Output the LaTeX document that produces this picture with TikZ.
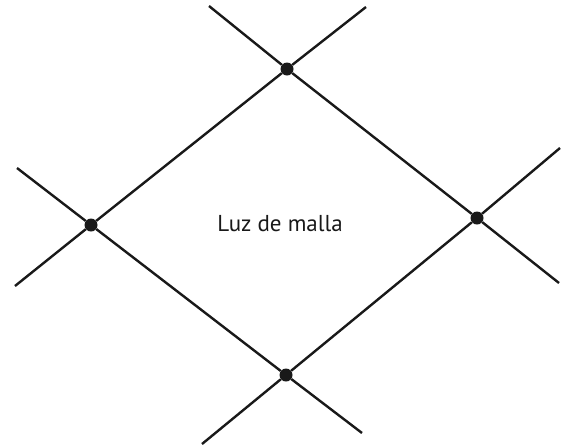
\documentclass[tikz,border=0pt]{standalone}
\usepackage{fontspec}
\setmainfont{PT Sans}
\usepackage{tikz}

\begin{document}
\begin{tikzpicture}[
    x=1pt, y=-1pt,
    knot/.style={circle, fill=black!90, inner sep=0pt, minimum size=13pt},
    hilo/.style={line width=2.4pt, black!90},
]

\useasboundingbox (0, 0) rectangle (561, 445);

% knots of the net
\node[knot] (top) at (287, 69) {};
\node[knot] (left) at (91, 225) {};
\node[knot] (right) at (477, 218) {};
\node[knot] (bot) at (286, 375) {};

% free ends of the twines
\coordinate (topL) at (209, 6);
\coordinate (topR) at (366, 7);
\coordinate (leftU) at (17, 168);
\coordinate (leftD) at (15, 286);
\coordinate (rightU) at (560, 148);
\coordinate (rightD) at (559, 283);
\coordinate (botL) at (202, 444);
\coordinate (botR) at (362, 433);

\draw[hilo] (top) -- (left);
\draw[hilo] (top) -- (right);
\draw[hilo] (bot) -- (left);
\draw[hilo] (bot) -- (right);

\draw[hilo] (top) -- (topL);
\draw[hilo] (top) -- (topR);
\draw[hilo] (left) -- (leftU);
\draw[hilo] (left) -- (leftD);
\draw[hilo] (right) -- (rightU);
\draw[hilo] (right) -- (rightD);
\draw[hilo] (bot) -- (botL);
\draw[hilo] (bot) -- (botR);

\node[font=\fontsize{23}{26}\selectfont, black!90] (luz) at (280, 224) {Luz de malla};

\end{tikzpicture}
\end{document}
